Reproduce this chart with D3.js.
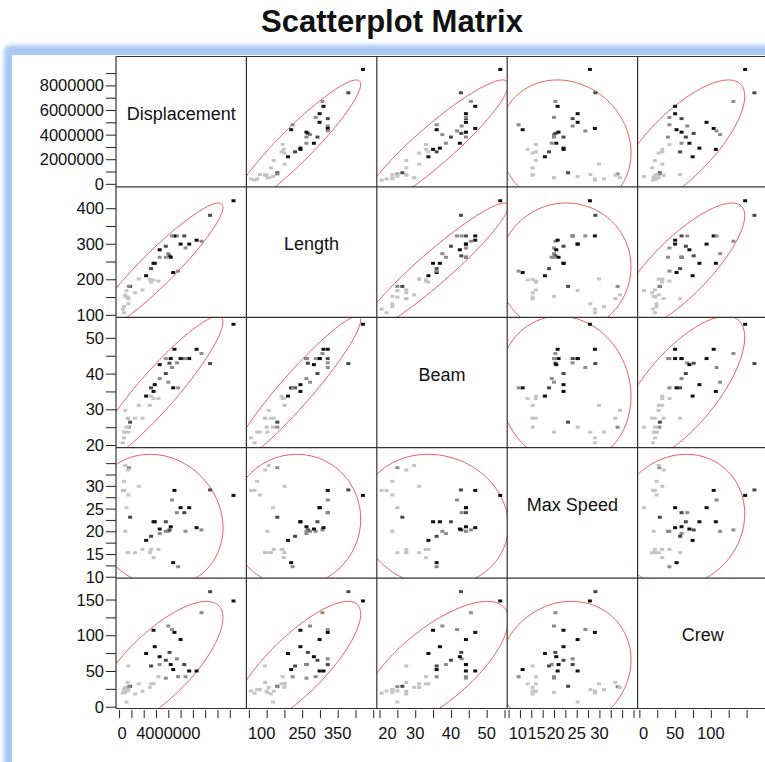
<!DOCTYPE html>
<html>
<head>
<meta charset="utf-8">
<script src="https://cdn.jsdelivr.net/npm/d3@7"></script>
<style>
  body { margin: 0; background: #fff; }
  text { font-family: "Liberation Sans", Arial, sans-serif; fill: #111; }
</style>
</head>
<body>
<svg id="chart"></svg>
<script>
// ----------------------------------
// 1) Data (read off the picture)
// ----------------------------------
const varNames = ["Displacement", "Length", "Beam", "Max Speed", "Crew"];

const displacement = [9300000, 7400000, 6700000, 6300000, 5700000, 5000000, 5300000, 4700000, 5400000, 4500000,
  4300000, 4000000, 4100000, 4200000, 3800000, 3800000, 3300000, 3300000, 3200000, 2900000,
  2800000, 2800000, 2600000, 2600000, 2500000, 2200000, 1900000, 1600000, 1300000, 900000,
  800000, 500000, 700000, 400000, 300000, 750000, 600000, 500000, 700000, 750000,
  400000, 4400000, 4800000];
const shipLength = [421, 380, 307, 310, 299, 299, 322, 322, 288, 322,
  322, 272, 266, 262, 293, 262, 283, 262, 195, 245,
  245, 198, 230, 192, 200, 210, 170, 201, 162, 180,
  180, 156, 146, 123, 116, 131, 168, 152, 150, 145,
  106, 219, 223];
const beam = [53.8, 42.8, 45.6, 46.8, 44.2, 44.2, 44.2, 43, 44.2, 46.8,
  41.7, 37.6, 42.9, 44.2, 40, 44.2, 42.5, 38.6, 33, 36.9,
  35, 33, 36, 33.7, 31.1, 33.7, 27.5, 31.1, 27.5, 26.4,
  25, 29.7, 27.5, 23.6, 20.6, 23.6, 25, 23.6, 25, 27.5,
  22, 36, 36];
const maxSpeed = [27.9, 29.1, 20.3, 20.8, 25.2, 25.2, 24.1, 24.1, 20, 29,
  26.9, 20, 20.3, 21, 22.1, 20, 20.5, 19.5, 16, 22.1,
  22.1, 14.2, 18.9, 16, 15.3, 18, 16, 29.9, 15.3, 23.1,
  34, 34.5, 33.5, 31, 29, 28, 25.2, 20, 15.3, 15.3,
  29, 13.1, 12.2];
const crew = [148, 161, 131.6, 50, 50, 94, 59, 67, 42, 104,
  108, 113, 76, 59, 65, 40, 70, 59, 42, 84,
  107, 32, 57, 32, 27, 74.5, 21.6, 32, 17.8, 28.6,
  28, 27, 34, 24, 19, 24, 6.6, 20, 22, 57,
  22, 52, 42];
// marker shade: 0 light .. 3 black
const shade = [3, 2, 1, 3, 3, 3, 2, 1, 1, 3,
  1, 1, 2, 3, 2, 1, 3, 1, 0, 3,
  3, 0, 2, 0, 0, 3, 0, 0, 0, 2,
  1, 0, 0, 0, 0, 0, 0, 0, 0, 0,
  0, 3, 1];

const domains = [[-250000, 10350000], [93, 460], [19.25, 55.75], [9.7, 38.4], [-2.5, 180]];

const leftTicks = [d3.range(0, 9000001, 1000000), d3.range(100, 401, 50), d3.range(20, 51, 5),
  d3.range(10, 35.1, 2.5), d3.range(0, 151, 25)];
const leftLabels = [[0, 2000000, 4000000, 6000000, 8000000], [100, 200, 300, 400], [20, 30, 40, 50],
  [10, 15, 20, 25, 30], [0, 50, 100, 150]];
const bottomTicks = [d3.range(0, 9000001, 1000000), d3.range(100, 451, 50), d3.range(20, 56, 5),
  d3.range(10, 37.6, 2.5), d3.range(0, 151, 25)];
const bottomLabels = [[0, 4000000], [100, 250, 350], [20, 30, 40, 50], [10, 15, 20, 25, 30], [0, 50, 100]];

const shadeColors = ["#c4c4c4", "#8c8c8c", "#4a4a4a", "#111111"];

// ----------------------------------
// 2) Layout
// ----------------------------------
const width = 765, height = 762;
const x0 = 116, y0 = 56.5, cell = 130.4;
const nVar = varNames.length;
const columns = [displacement, shipLength, beam, maxSpeed, crew];

const svg = d3.select("#chart").attr("width", width).attr("height", height);
const defs = svg.append("defs");

const blur = defs.append("filter").attr("id", "soft").attr("x", "-5%").attr("y", "-5%")
  .attr("width", "110%").attr("height", "110%");
blur.append("feGaussianBlur").attr("stdDeviation", 2);

// window frame: soft blue band, white panel inside
svg.append("rect").attr("x", 4).attr("y", 45).attr("width", 900).attr("height", 900)
  .attr("rx", 6).attr("fill", "#a9c8f2").attr("filter", "url(#soft)");
svg.append("rect").attr("x", 12).attr("y", 55).attr("width", 900).attr("height", 900)
  .attr("fill", "#fff");

svg.append("text").attr("x", 392).attr("y", 32).attr("text-anchor", "middle")
  .style("font-size", "31px").style("font-weight", "bold").text("Scatterplot Matrix");

// scales: x and y per variable
const xScales = domains.map((d, i) => d3.scaleLinear().domain(d).range([x0 + i * cell, x0 + (i + 1) * cell]));
const yScales = domains.map((d, i) => d3.scaleLinear().domain(d).range([y0 + (i + 1) * cell, y0 + i * cell]));

// ----------------------------------
// 3) Density ellipse (95%)
// ----------------------------------
function ellipsePoints(xs, ys) {
  const mx = d3.mean(xs), my = d3.mean(ys);
  const sx = d3.deviation(xs), sy = d3.deviation(ys);
  let cov = 0;
  xs.forEach((v, k) => { cov += (v - mx) * (ys[k] - my); });
  cov /= (xs.length - 1);
  const r = cov / (sx * sy);
  const k = Math.sqrt(5.991);
  const pts = [];
  for (let t = 0; t <= 2 * Math.PI + 0.001; t += Math.PI / 90) {
    pts.push([mx + k * sx * Math.cos(t),
      my + k * sy * (r * Math.cos(t) + Math.sqrt(1 - r * r) * Math.sin(t))]);
  }
  return pts;
}

const cells = svg.append("g");

for (let row = 0; row < nVar; row++) {
  for (let col = 0; col < nVar; col++) {
    const cx = x0 + col * cell, cy = y0 + row * cell;
    const g = cells.append("g");
    const clipId = `clip-${row}-${col}`;
    defs.append("clipPath").attr("id", clipId).append("rect")
      .attr("x", cx).attr("y", cy).attr("width", cell).attr("height", cell);

    if (row === col) {
      g.append("text").attr("x", cx + cell / 2).attr("y", cy + cell / 2 - 2)
        .attr("text-anchor", "middle").style("font-size", "18px").text(varNames[row]);
      continue;
    }
    const xs = columns[col], ys = columns[row];
    const xS = xScales[col], yS = yScales[row];
    const inner = g.append("g").attr("clip-path", `url(#${clipId})`);

    const line = d3.line().x(d => xS(d[0])).y(d => yS(d[1]));
    inner.append("path").attr("d", line(ellipsePoints(xs, ys)))
      .attr("fill", "none").attr("stroke", "#ec5a5e").attr("stroke-width", 1);

    inner.selectAll("rect.pt").data(d3.range(xs.length)).enter().append("rect")
      .attr("class", "pt")
      .attr("x", k => xS(xs[k]) - 2).attr("y", k => yS(ys[k]) - 1.5)
      .attr("width", 4).attr("height", 3)
      .attr("fill", k => shadeColors[shade[k]]);
  }
}

// cell borders
const border = svg.append("g").attr("stroke", "#333").attr("stroke-width", 1.2);
for (let i = 0; i <= nVar; i++) {
  border.append("line").attr("x1", x0 + i * cell).attr("x2", x0 + i * cell)
    .attr("y1", y0).attr("y2", y0 + nVar * cell);
  border.append("line").attr("x1", x0).attr("x2", x0 + nVar * cell)
    .attr("y1", y0 + i * cell).attr("y2", y0 + i * cell);
}

// ----------------------------------
// 4) Axes
// ----------------------------------
const fmt = d3.format("d");
for (let i = 0; i < nVar; i++) {
  // left axis
  const ay = svg.append("g").attr("transform", `translate(${x0},0)`)
    .call(d3.axisLeft(yScales[i]).tickValues(leftTicks[i]).tickSize(10).tickFormat(""));
  ay.select(".domain").remove();
  ay.selectAll(".tick line").attr("stroke", "#222");
  ay.selectAll("text.lab").data(leftLabels[i]).enter().append("text")
    .attr("class", "lab").attr("x", -12).attr("y", d => yScales[i](d) + 6)
    .attr("text-anchor", "end").style("font-size", "16.5px").text(fmt);

  // bottom axis: labels are packed left to right so they never overlap
  const bottom = y0 + nVar * cell;
  const ax = svg.append("g").attr("transform", `translate(0,${bottom + 1.5})`)
    .call(d3.axisBottom(xScales[i]).tickValues(bottomTicks[i]).tickSize(8).tickFormat(""));
  ax.select(".domain").remove();
  ax.selectAll(".tick line").attr("stroke", "#222");
  const cellLeft = x0 + i * cell;
  let prevRight = cellLeft + 1;
  ax.selectAll("text.lab").data(bottomLabels[i]).enter().append("text")
    .attr("class", "lab").attr("y", 29).attr("text-anchor", "start")
    .style("font-size", "16.5px").text(fmt)
    .attr("x", function (d) {
      const w = this.getComputedTextLength();
      const left = Math.max(xScales[i](d) - w / 2, prevRight + 0.5);
      prevRight = left + w;
      return left;
    });
}
</script>
</body>
</html>
